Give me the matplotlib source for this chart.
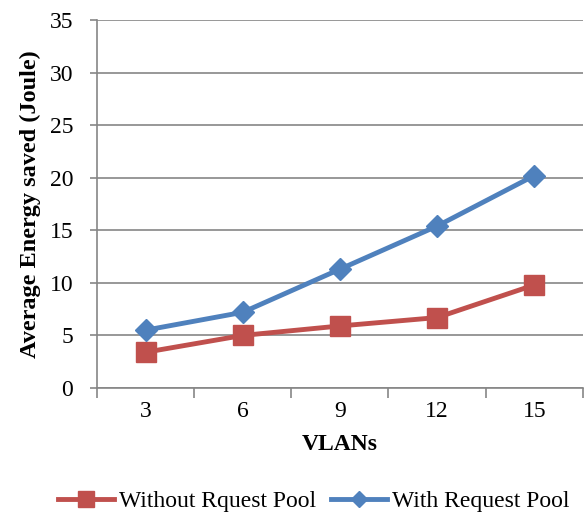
import matplotlib
matplotlib.use("Agg")
import matplotlib.pyplot as plt
import numpy as np

categories = ["3", "6", "9", "12", "15"]
without_pool = [3.4, 5.0, 5.9, 6.7, 9.8]
with_pool = [5.5, 7.2, 11.3, 15.4, 20.2]
yticks = [0, 5, 10, 15, 20, 25, 30, 35]

plt.rcParams['font.family'] = ['Liberation Serif', 'DejaVu Serif']

fig = plt.figure(figsize=(5.84, 5.15), dpi=100)
ax = fig.add_axes([0.166, 0.2466, 0.832, 0.7145])

x = np.arange(len(categories))
grid_c = '#868686'
ax.plot(x, without_pool, color='#C0504D', lw=3.5, marker='s', markersize=15,
        label='Without Rquest Pool', zorder=3)
ax.plot(x, with_pool, color='#4F81BD', lw=3.5, marker='D', markersize=11,
        label='With Request Pool', zorder=4)

ax.set_xlim(-0.5, len(categories) - 0.5)
ax.set_ylim(0, 35)
ax.set_yticks(yticks)
ax.yaxis.grid(True, color=grid_c, lw=1.2)
ax.set_axisbelow(True)

ax.set_xticks(x)
ax.set_xticklabels(categories)
ax.set_xticks(np.arange(-0.5, len(categories), 1), minor=True)
ax.tick_params(axis='x', which='major', length=0, pad=9, labelsize=17)
ax.tick_params(axis='x', which='minor', length=7, width=1.2, color=grid_c, direction='out')
ax.tick_params(axis='y', length=5, width=1.2, color=grid_c, labelsize=17, pad=12)

for s in ['top', 'right']:
    ax.spines[s].set_visible(False)
for s in ['left', 'bottom']:
    ax.spines[s].set_color(grid_c)
    ax.spines[s].set_linewidth(1.2)

ax.set_xlabel('VLANs', fontsize=17, fontweight='bold', labelpad=9)
ax.set_ylabel('Average Energy saved (Joule)', fontsize=17.5, fontweight='bold', labelpad=6)

leg = fig.legend(loc='lower center', bbox_to_anchor=(0.537, -0.035), ncol=2, frameon=False,
                 fontsize=17, handlelength=2.4, columnspacing=0.6, handletextpad=0.2)
for h in leg.legend_handles:
    h.set_markersize(h.get_markersize() * 0.75)

fig.savefig('out.png', dpi=100)
